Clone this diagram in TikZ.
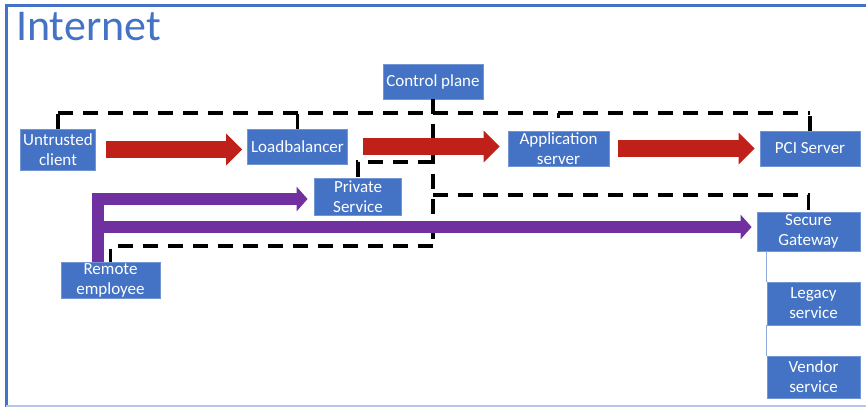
\documentclass[tikz,border=0pt]{standalone}
\usepackage{fontspec}
\setmainfont{Carlito}
\usetikzlibrary{arrows.meta,calc}
\definecolor{boxblue}{RGB}{68,114,196}
\definecolor{flowred}{RGB}{192,32,26}
\definecolor{flowpurple}{RGB}{112,48,160}
\definecolor{linkblue}{RGB}{143,170,220}
\tikzset{
  svc/.style={fill=boxblue, draw=boxblue!75!white, line width=0.8pt, text=white,
    inner sep=0pt, align=center, font=\fontsize{17}{20}\selectfont},
  redflow/.style={flowred, line width=17pt, -{Triangle[length=16pt,width=31pt]}},
  purpleflow/.style={flowpurple, line width=12pt, line join=miter, -{Triangle[length=11pt,width=24pt]}},
  boundary/.style={black, line width=3.5pt, dash pattern=on 15pt off 10pt},
  link/.style={linkblue, line width=1.5pt}
}
\begin{document}
\begin{tikzpicture}[x=1pt,y=-1pt]
\useasboundingbox (0,0) rectangle (866,407);
% frame
\draw[boxblue, line width=3pt] (6,407) -- (6,5) -- (866,5);
\draw[boxblue!40, line width=1.5pt] (6,406) -- (866,406);
\node[anchor=base west, text=boxblue, font=\fontsize{44}{44}\selectfont, inner sep=0pt] (title) at (16,40) {Internet};

% services
\node[svc, minimum width=75pt, minimum height=41pt] (client) at (58,149.5) {Untrusted\\client};
\node[svc, minimum width=100pt, minimum height=35pt] (lb) at (297.5,146.5) {Loadbalancer};
\node[svc, minimum width=100pt, minimum height=35pt] (cp) at (433,81.5) {Control plane};
\node[svc, minimum width=87pt, minimum height=37pt] (ps) at (358,196.5) {Private\\Service};
\node[svc, minimum width=101pt, minimum height=35pt] (app) at (558.5,148.5) {Application\\server};
\node[svc, minimum width=100pt, minimum height=35pt] (pci) at (810,148.5) {PCI Server};
\node[svc, minimum width=103pt, minimum height=39pt] (sg) at (808.5,231.5) {Secure\\Gateway};
\node[svc, minimum width=93pt, minimum height=43pt] (legacy) at (813.5,303.5) {Legacy\\service};
\node[svc, minimum width=93pt, minimum height=42pt] (vendor) at (813.5,377) {Vendor\\service};
\node[svc, minimum width=99pt, minimum height=36pt] (remote) at (110.5,280) {Remote\\employee};

% boundary levels
\coordinate (yTop) at (0,113);
\coordinate (yLb) at (0,162);
\coordinate (ySg) at (0,195);
\coordinate (yLow) at (0,246);

% dashed trust boundaries
\draw[boundary] (cp.south) -- (cp.south |- yLow);
\draw[boundary] (client.north |- yTop) -- (pci.north |- yTop);
\draw[boundary] (client.north) -- (client.north |- yTop);
\draw[boundary] (lb.north) -- (lb.north |- yTop);
\draw[boundary] (app.north |- yTop) -- ++(0,5);
\draw[boundary] (pci.north) -- (pci.north |- yTop);
\draw[boundary] (cp.south |- yLb) -- (ps.north |- yLb) -- (ps.north);
\draw[boundary] (cp.south |- ySg) -- (sg.north |- ySg) -- (sg.north);
\draw[boundary] (cp.south |- yLow) -- (remote.north |- yLow) -- (remote.north);

% request path
\draw[redflow, shorten <=10pt, shorten >=5pt] (client.east) -- (client.east -| lb.west);
\draw[redflow, shorten <=15pt, shorten >=8pt] (lb.east) -- (lb.east -| app.west);
\draw[redflow, shorten <=9pt, shorten >=5pt] (app.east) -- (app.east -| pci.west);

% remote access
\coordinate (fork) at ([xshift=-12.5pt]remote.north);
\coordinate (yArm) at (0,227);
\draw[purpleflow, shorten >=6.5pt] (fork) |- ([yshift=-2.5pt]ps.west);
\draw[purpleflow, shorten >=5pt] (fork |- yArm) -- (sg.west |- yArm);

% gateway links
\draw[link] (legacy.north west) -- (legacy.north west |- sg.south);
\draw[link] (vendor.north west) -- (vendor.north west |- legacy.south);
\end{tikzpicture}
\end{document}
